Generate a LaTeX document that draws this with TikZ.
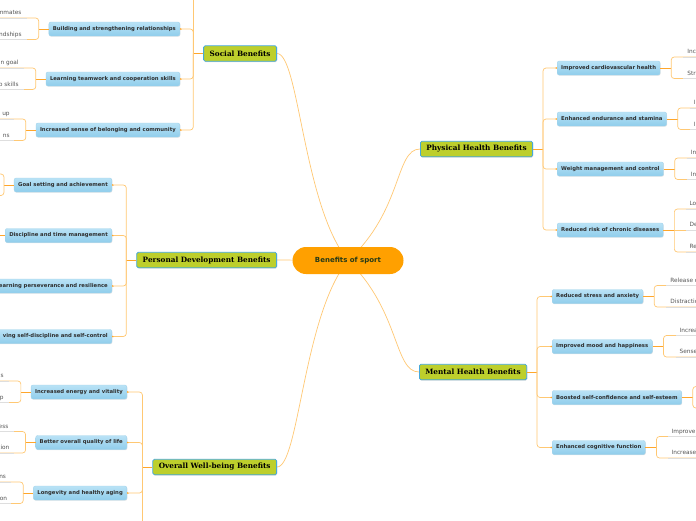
\documentclass[tikz,border=0pt]{standalone}
\usepackage{fontspec}
\usepackage{xcolor}
\usepackage{tikz}
\usetikzlibrary{arrows.meta,shadows,positioning,calc,backgrounds}
\newfontfamily\mapsans{DejaVu Sans}
\newfontfamily\mapserif{DejaVu Serif}
\definecolor{hubc}{HTML}{FFA000}
\definecolor{hubtxt}{HTML}{263A17}
\definecolor{topicc}{HTML}{BDCF2C}
\definecolor{topicbd}{HTML}{45A8DC}
\definecolor{subtop}{HTML}{B9E2F6}
\definecolor{subbot}{HTML}{8FCDEB}
\definecolor{subbd}{HTML}{A2D3EC}
\definecolor{subtxt}{HTML}{2E2E2E}
\definecolor{linkc}{HTML}{FFC873}
\definecolor{stemc}{HTML}{FFA62B}
\definecolor{ulinec}{HTML}{DEDEDE}
\definecolor{leaftxt}{HTML}{555555}

\begin{document}
\begin{tikzpicture}[x=1pt,y=-1pt,
 hub/.style={fill=hubc,rounded corners=13.5pt,minimum width=111pt,minimum height=27pt,
  font=\mapsans\bfseries\fontsize{7}{8}\selectfont,text=hubtxt},
 topic/.style={fill=topicc,draw=topicbd,line width=0.8pt,rounded corners=1.5pt,minimum height=15.5pt,
  inner xsep=6pt,font=\mapserif\bfseries\fontsize{7.3}{9}\selectfont,text=black,
  drop shadow={opacity=0.3,shadow xshift=0.6pt,shadow yshift=-0.8pt}},
 sub/.style={draw=subbd,line width=0.4pt,top color=subtop,bottom color=subbot,rounded corners=2pt,
  minimum height=14pt,inner xsep=4pt,inner ysep=1pt,font=\mapsans\bfseries\fontsize{5.3}{6}\selectfont,
  text=subtxt,drop shadow={opacity=0.2,shadow xshift=0.5pt,shadow yshift=-0.7pt}},
 cut/.style={text width=118pt,align=right},
 leaf/.style={font=\mapsans\fontsize{5.8}{7}\selectfont,text=leaftxt,inner sep=0pt},
 link/.style={draw=linkc,line width=0.7pt},
 stem/.style={draw=stemc,line width=1pt},
 trunk/.style={draw=linkc,line width=0.7pt,rounded corners=3pt},
 dot/.style={-{Circle[length=1.6pt,color=stemc]}},
 brk/.style={draw=linkc,line width=0.7pt,rounded corners=3pt},
 uline/.style={draw=ulinec,line width=0.7pt}]
\useasboundingbox (0,0) rectangle (696,520);
\clip (0,0) rectangle (696,520);

\node[hub] (hub) at (348,260.5) {Benefits of sport};

\node[topic,anchor=east] (soc) at (277,53.5) {Social Benefits};
\node[topic,anchor=east] (dev) at (277,260) {Personal Development Benefits};
\node[topic,anchor=east] (well) at (277,467) {Overall Well-being Benefits};
\node[topic,anchor=west] (phys) at (420,149) {Physical Health Benefits};
\node[topic,anchor=west] (ment) at (419,372) {Mental Health Benefits};

\begin{scope}[on background layer]
\fill[white] (0,0) rectangle (696,520);
\draw[link] (hub.center) .. controls +(-45,-55) and +(22,0) .. (soc.east);
\draw[link] (hub.center) -- (dev.east);
\draw[link] (hub.center) .. controls +(-45,55) and +(22,0) .. (well.east);
\draw[link] (hub.center) .. controls +(55,-50) and +(-25,0) .. (phys.west);
\draw[link] (hub.center) .. controls +(52,50) and +(-25,0) .. (ment.west);
\end{scope}

\node[sub,anchor=east] (soc1) at (180,29) {Building and strengthening relationships};
\node[sub,anchor=east] (soc2) at (180,79) {Learning teamwork and cooperation skills};
\node[sub,anchor=east] (soc3) at (180,130) {Increased sense of belonging and community};
\node[sub,anchor=east] (dev1) at (112,185) {Goal setting and achievement};
\node[sub,anchor=east] (dev2) at (112,235.5) {Discipline and time management};
\node[sub,cut,anchor=east] (dev3) at (112,286) {earning perseverance and resilience};
\node[sub,cut,anchor=east] (dev4) at (112,336.5) {ving self-discipline and self-control};
\node[sub,anchor=east] (well1) at (127,392) {Increased energy and vitality};
\node[sub,anchor=east] (well2) at (127,442.5) {Better overall quality of life};
\node[sub,anchor=east] (well3) at (127,493) {Longevity and healthy aging};
\node[sub,anchor=west] (phys1) at (557,68) {Improved cardiovascular health};
\node[sub,anchor=west] (phys2) at (557,119) {Enhanced endurance and stamina};
\node[sub,anchor=west] (phys3) at (557,169) {Weight management and control};
\node[sub,anchor=west] (phys4) at (557,230) {Reduced risk of chronic diseases};
\node[sub,anchor=west] (ment1) at (552,296.5) {Reduced stress and anxiety};
\node[sub,anchor=west] (ment2) at (552,346.5) {Improved mood and happiness};
\node[sub,anchor=west] (ment3) at (552,397.5) {Boosted self-confidence and self-esteem};
\node[sub,anchor=west] (ment4) at (552,447.5) {Enhanced cognitive function};

\draw[stem] (soc.west) -- ++(-10,0) coordinate (socj);
\draw[trunk] (socj) -- ++(0,-70);
\foreach \c in {soc1,soc2,soc3} \draw[trunk,dot] (socj) |- (\c.east);
\draw[stem] (dev.west) -- ++(-10,0) coordinate (devj);
\foreach \c in {dev1,dev2,dev3,dev4} \draw[trunk,dot] (devj) |- (\c.east);
\draw[stem] (well.west) -- ++(-10,0) coordinate (wellj);
\draw[trunk] (wellj) -- ++(0,70);
\foreach \c in {well1,well2,well3} \draw[trunk,dot] (wellj) |- (\c.east);
\draw[stem] (phys.east) -- ++(10,0) coordinate (physj);
\foreach \c in {phys1,phys2,phys3,phys4} \draw[trunk,dot] (physj) |- (\c.west);
\draw[stem] (ment.east) -- ++(10,0) coordinate (mentj);
\foreach \c in {ment1,ment2,ment3,ment4} \draw[trunk,dot] (mentj) |- (\c.west);

\foreach \c in {soc1,soc2,soc3,dev1,well1,well2,well3}{
 \draw[stem] (\c.west) -- ++(-10,0) coordinate (\c-k);
 \draw[brk] (\c-k) ++(-80,-11) -| (\c-k) |- ++(-80,10.5);
 \draw[uline] (\c-k) ++(-12,-11) -- ++(-70,0) (\c-k) ++(-12,10.5) -- ++(-70,0);
}
\draw[stem] (dev2.west) -- ++(-10,0);
\foreach \c in {phys1,phys2,phys3,ment1,ment2,ment3,ment4}{
 \draw[stem] (\c.east) -- ++(11,0) coordinate (\c-k);
 \draw[brk] (\c-k) ++(80,-11) -| (\c-k) |- ++(80,10.5);
 \draw[uline] (\c-k) ++(12,-11) -- ++(70,0) (\c-k) ++(12,10.5) -- ++(70,0);
}
\draw[stem] (phys4.east) -- ++(11,0) coordinate (phys4-k);
\draw[brk] (phys4-k) ++(80,-21) -| (phys4-k) |- ++(80,22);
\draw[brk] (phys4-k) -- ++(80,0);
\draw[uline] (phys4-k) ++(12,-21) -- ++(70,0) (phys4-k) ++(12,0) -- ++(70,0) (phys4-k) ++(12,22) -- ++(70,0);

\node[leaf,anchor=base east] (soc1a) at ($(soc1-k)+(-17,-14.5)$) {mmates};
\node[leaf,anchor=base east] (soc1b) at ($(soc1-k)+(-17,7)$) {ndships};
\node[leaf,anchor=base east] (soc2a) at ($(soc2-k)+(-17,-14.5)$) {n goal};
\node[leaf,anchor=base east] (soc2b) at ($(soc2-k)+(-17,7)$) {p skills};
\node[leaf,anchor=base east] (soc3a) at ($(soc3-k)+(-16,-14.5)$) {up};
\node[leaf,anchor=base east] (soc3b) at ($(soc3-k)+(-16,7)$) {ns};
\node[leaf,anchor=base east] (well1a) at ($(well1-k)+(-17,-14.5)$) {s};
\node[leaf,anchor=base east] (well1b) at ($(well1-k)+(-17,7)$) {p};
\node[leaf,anchor=base east] (well2a) at ($(well2-k)+(-17,-14.5)$) {ess};
\node[leaf,anchor=base east] (well2b) at ($(well2-k)+(-16,7)$) {tion};
\node[leaf,anchor=base east] (well3a) at ($(well3-k)+(-17,-14.5)$) {ns};
\node[leaf,anchor=base east] (well3b) at ($(well3-k)+(-16,7)$) {on};
\node[leaf,anchor=base west] (phys1a) at ($(phys1-k)+(16,-14.5)$) {Inc};
\node[leaf,anchor=base west] (phys1b) at ($(phys1-k)+(16,7)$) {Str};
\node[leaf,anchor=base west] (phys2a) at ($(phys2-k)+(16,-14.5)$) {I};
\node[leaf,anchor=base west] (phys2b) at ($(phys2-k)+(16,7)$) {I};
\node[leaf,anchor=base west] (phys3a) at ($(phys3-k)+(16,-14.5)$) {In};
\node[leaf,anchor=base west] (phys3b) at ($(phys3-k)+(16,7)$) {In};
\node[leaf,anchor=base west] (phys4a) at ($(phys4-k)+(15,-24.5)$) {Lo};
\node[leaf,anchor=base west] (phys4b) at ($(phys4-k)+(15,-3.5)$) {De};
\node[leaf,anchor=base west] (phys4c) at ($(phys4-k)+(15,18.5)$) {Re};
\node[leaf,anchor=base west] (ment1a) at ($(ment1-k)+(16,-14.5)$) {Release o};
\node[leaf,anchor=base west] (ment1b) at ($(ment1-k)+(16,7)$) {Distractio};
\node[leaf,anchor=base west] (ment2a) at ($(ment2-k)+(16,-14.5)$) {Increa};
\node[leaf,anchor=base west] (ment2b) at ($(ment2-k)+(16,7)$) {Sense};
\node[leaf,anchor=base west] (ment4a) at ($(ment4-k)+(15,-14.5)$) {Improve};
\node[leaf,anchor=base west] (ment4b) at ($(ment4-k)+(15,7)$) {Increase};
\end{tikzpicture}
\end{document}
